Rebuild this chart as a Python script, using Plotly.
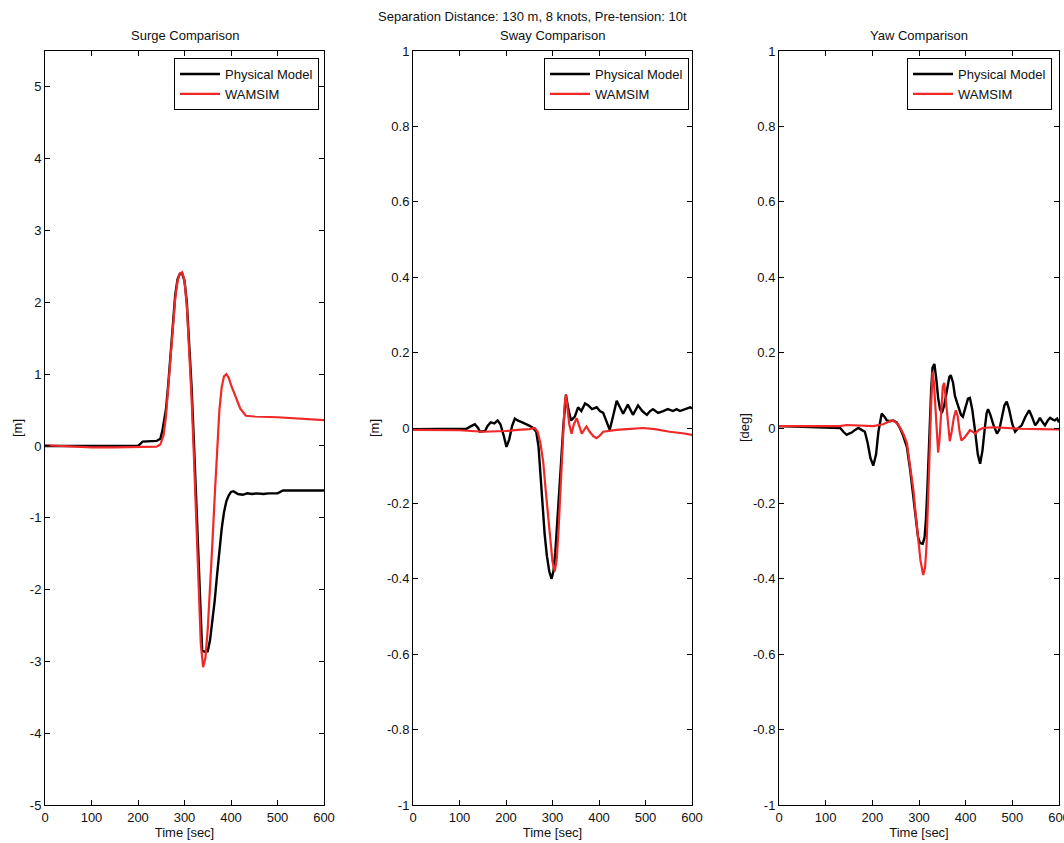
import plotly.graph_objects as go

# ---------------- data ----------------
t_surge_phys = [0, 50, 100, 150, 200, 205, 210, 240, 248, 252, 255, 260, 265, 270, 275,
                280, 285, 290, 295, 300, 305, 310, 315, 320, 325, 330, 335, 338, 345, 350,
                355, 360, 365, 370, 375, 380, 385, 390, 395, 400, 405, 415, 425, 435, 445,
                455, 470, 480, 500, 508, 512, 550, 600]
surge_phys = [0.0, 0.0, 0.0, 0.0, 0.0, 0.03, 0.06, 0.07, 0.1, 0.2, 0.3, 0.5, 0.85, 1.3, 1.75,
              2.1, 2.32, 2.4, 2.4, 2.3, 2.0, 1.5, 0.85, 0.1, -0.7, -1.6, -2.5, -2.85, -2.87, -2.86,
              -2.7, -2.45, -2.15, -1.8, -1.45, -1.15, -0.92, -0.77, -0.69, -0.64, -0.63, -0.67, -0.68, -0.66, -0.67,
              -0.66, -0.67, -0.66, -0.66, -0.64, -0.62, -0.62, -0.62]

t_surge_wam = [0, 50, 100, 150, 200, 240, 248, 255, 260, 265, 270, 275, 280, 285, 290,
               295, 300, 305, 310, 315, 320, 325, 330, 335, 340, 345, 350, 355, 360, 365,
               370, 375, 380, 385, 390, 395, 400, 410, 420, 432, 450, 500, 550, 600]
surge_wam = [0.01, -0.01, -0.02, -0.02, -0.02, -0.01, 0.02, 0.15, 0.4, 0.8, 1.25, 1.7, 2.05, 2.3, 2.4,
             2.42, 2.3, 1.95, 1.4, 0.7, -0.1, -1.0, -2.0, -2.75, -3.08, -2.95, -2.55, -2.0, -1.35, -0.7,
             -0.05, 0.5, 0.82, 0.97, 1.0, 0.95, 0.85, 0.68, 0.52, 0.42, 0.41, 0.4, 0.38, 0.36]

t_sway_phys = [0, 50, 100, 115, 125, 133, 140, 144, 155, 160, 167, 175, 182, 188, 195,
               201, 207, 213, 219, 225, 235, 245, 252, 258, 265, 270, 274, 278, 283, 288,
               293, 298, 302, 306, 310, 314, 318, 323, 329, 334, 340, 348, 355, 362, 370,
               377, 385, 395, 402, 409, 416, 423, 430, 438, 445, 452, 462, 468, 473, 484,
               493, 503, 510, 516, 527, 538, 548, 559, 567, 574, 585, 596, 600]
sway_phys = [-0.003, -0.003, -0.002, -0.002, 0.005, 0.01, 0.0, -0.01, -0.008, 0.005, 0.015, 0.012, 0.02, 0.01, -0.02,
             -0.05, -0.03, 0.005, 0.025, 0.02, 0.015, 0.01, 0.005, 0.0, -0.01, -0.05, -0.12, -0.2, -0.28, -0.34,
             -0.38, -0.40, -0.38, -0.33, -0.26, -0.19, -0.1, 0.0, 0.087, 0.05, 0.02, 0.03, 0.055, 0.045, 0.065,
             0.06, 0.05, 0.055, 0.045, 0.04, 0.02, -0.005, 0.03, 0.072, 0.055, 0.038, 0.062, 0.045, 0.035, 0.06,
             0.045, 0.035, 0.045, 0.05, 0.04, 0.045, 0.05, 0.045, 0.05, 0.045, 0.05, 0.055, 0.052]

t_sway_wam = [0, 50, 100, 150, 175, 200, 225, 250, 262, 268, 274, 280, 285, 290, 295,
              300, 305, 309, 313, 317, 320, 323, 326, 329, 332, 336, 341, 346, 352, 357,
              363, 368, 373, 380, 388, 395, 402, 409, 420, 438, 460, 495, 520, 552, 580, 600]
sway_wam = [-0.005, -0.005, -0.006, -0.01, -0.01, -0.008, -0.005, -0.003, 0.0, -0.01, -0.04, -0.09, -0.16, -0.23, -0.3,
            -0.355, -0.38, -0.35, -0.27, -0.17, -0.08, 0.0, 0.06, 0.09, 0.06, 0.01, -0.015, 0.01, 0.026, 0.005,
            -0.015, -0.005, 0.004, -0.01, -0.022, -0.027, -0.02, -0.01, -0.008, -0.005, -0.003, 0.0, -0.003, -0.01, -0.014, -0.018]

t_yaw_phys = [0, 50, 100, 116, 131, 138, 145, 150, 156, 163, 170, 177, 184, 190, 196,
              202, 208, 213, 220, 226, 231, 238, 245, 252, 259, 266, 274, 281, 288, 293,
              298, 302, 308, 312, 315, 318, 322, 326, 329, 333, 337, 341, 345, 349, 354,
              360, 365, 368, 373, 377, 381, 390, 394, 400, 405, 409, 414, 420, 426, 431,
              436, 441, 445, 448, 453, 459, 467, 472, 478, 483, 488, 493, 500, 506, 513,
              520, 528, 536, 542, 549, 554, 559, 565, 570, 576, 581, 587, 591, 596, 600]
yaw_phys = [0.005, 0.003, 0.002, 0.0, 0.0, -0.01, -0.018, -0.015, -0.012, -0.005, 0.0, -0.005, -0.01, -0.04, -0.08,
            -0.1, -0.07, -0.01, 0.038, 0.03, 0.02, 0.018, 0.02, 0.015, 0.0, -0.02, -0.05, -0.11, -0.18, -0.24,
            -0.29, -0.305, -0.307, -0.29, -0.24, -0.16, -0.005, 0.1, 0.16, 0.17, 0.13, 0.08, 0.05, 0.04, 0.06,
            0.1, 0.135, 0.14, 0.12, 0.085, 0.07, 0.035, 0.03, 0.055, 0.078, 0.08, 0.05, -0.006, -0.07, -0.095,
            -0.06, 0.0, 0.04, 0.05, 0.035, 0.01, -0.015, -0.005, 0.03, 0.06, 0.07, 0.05, 0.01, -0.01, 0.0,
            0.007, 0.03, 0.047, 0.03, 0.007, 0.015, 0.027, 0.015, 0.007, 0.02, 0.027, 0.022, 0.02, 0.025, 0.015]

t_yaw_wam = [0, 50, 100, 130, 145, 170, 202, 223, 235, 241, 248, 255, 262, 268, 274,
             281, 288, 293, 298, 303, 309, 313, 316, 319, 322, 325, 329, 332, 334, 338,
             341, 344, 348, 351, 354, 357, 361, 366, 370, 375, 379, 383, 387, 391, 398,
             409, 415, 420, 428, 437, 460, 488, 520, 560, 600]
yaw_wam = [0.005, 0.005, 0.004, 0.005, 0.008, 0.007, 0.005, 0.01, 0.018, 0.02, 0.017, 0.01, -0.005, -0.02, -0.04,
           -0.1, -0.165, -0.23, -0.29, -0.35, -0.39, -0.37, -0.315, -0.22, -0.095, 0.03, 0.15, 0.12, 0.08, 0.0,
           -0.065, -0.03, 0.06, 0.11, 0.12, 0.08, 0.02, -0.035, -0.01, 0.03, 0.047, 0.03, -0.01, -0.033, -0.025,
           -0.006, -0.01, -0.015, -0.005, 0.0, 0.002, 0.0, -0.002, -0.003, -0.004]

x_ticks = [0, 100, 200, 300, 400, 500, 600]
x_ticktext = ["0", "100", "200", "300", "400", "500", "600"]
surge_ticks = [-5, -4, -3, -2, -1, 0, 1, 2, 3, 4, 5]
surge_ticktext = ["-5", "-4", "-3", "-2", "-1", "0", "1", "2", "3", "4", "5"]
unit_ticks = [-1, -0.8, -0.6, -0.4, -0.2, 0, 0.2, 0.4, 0.6, 0.8, 1]
unit_ticktext = ["-1", "-0.8", "-0.6", "-0.4", "-0.2", "0", "0.2", "0.4", "0.6", "0.8", "1"]

suptitle = "Separation Distance: 130 m, 8 knots, Pre-tension: 10t"
titles = ["Surge Comparison", "Sway Comparison", "Yaw Comparison"]
ylabels = ["[m]", "[m]", "[deg]"]
series_names = ["Physical Model", "WAMSIM"]

# ---------------- figure ----------------
W, H = 1064, 843
TOP, BOT = 51, 805
FONT = "Liberation Sans, Arial, sans-serif"
BLACK = "#000000"
RED = "#f02828"
TXT = "#111111"

def px_x(p):
    return p / W

def px_y(p):
    return (BOT - p) / (BOT - TOP)

domains = [(45, 324), (413, 692), (779, 1059)]
legend_right = [319, 689, 1052]
ylabel_x = [17, 374, 744]

fig = go.Figure()

data = [
    (t_surge_phys, surge_phys, t_surge_wam, surge_wam),
    (t_sway_phys, sway_phys, t_sway_wam, sway_wam),
    (t_yaw_phys, yaw_phys, t_yaw_wam, yaw_wam),
]

for i, (tp, yp, tw, yw) in enumerate(data):
    ax = "" if i == 0 else str(i + 1)
    leg = "legend" if i == 0 else f"legend{i + 1}"
    fig.add_trace(go.Scatter(x=tp, y=yp, mode="lines", name=series_names[0],
                             line=dict(color=BLACK, width=2.4),
                             xaxis="x" + ax, yaxis="y" + ax, legend=leg))
    fig.add_trace(go.Scatter(x=tw, y=yw, mode="lines", name=series_names[1],
                             line=dict(color=RED, width=2.2),
                             xaxis="x" + ax, yaxis="y" + ax, legend=leg))

axis_common = dict(showline=True, linecolor="black", linewidth=1, mirror="ticks",
                   ticks="inside", ticklen=5, tickcolor="black", tickwidth=1,
                   showgrid=False, zeroline=False, automargin=False,
                   ticklabeloverflow="allow",
                   tickfont=dict(family=FONT, size=13, color=TXT))

layout = dict(
    width=W, height=H,
    margin=dict(l=0, r=0, t=TOP, b=H - BOT, pad=0),
    paper_bgcolor="white", plot_bgcolor="white",
    font=dict(family=FONT, size=13, color=TXT),
    showlegend=True,
)

annotations = [dict(text=suptitle, x=px_x(532), y=px_y(17), xref="paper", yref="paper",
                    showarrow=False, xanchor="center", yanchor="middle",
                    font=dict(family=FONT, size=13, color=TXT))]

for i in range(3):
    ax = "" if i == 0 else str(i + 1)
    x0, x1 = domains[i]
    xa = dict(axis_common, domain=[px_x(x0), px_x(x1)], range=[0, 600],
              tickvals=x_ticks, ticktext=x_ticktext, anchor="y" + ax,
              title=dict(text="Time [sec]", standoff=0, font=dict(family=FONT, size=13, color=TXT)))
    if i == 0:
        ya = dict(axis_common, domain=[0, 1], range=[-5, 5.5],
                  tickvals=surge_ticks, ticktext=surge_ticktext, anchor="x" + ax)
    else:
        ya = dict(axis_common, domain=[0, 1], range=[-1, 1],
                  tickvals=unit_ticks, ticktext=unit_ticktext, anchor="x" + ax)
    layout["xaxis" + ax] = xa
    layout["yaxis" + ax] = ya

    annotations.append(dict(text=titles[i], x=px_x((x0 + x1) / 2), y=px_y(36),
                            xref="paper", yref="paper", showarrow=False,
                            xanchor="center", yanchor="middle",
                            font=dict(family=FONT, size=13, color=TXT)))
    annotations.append(dict(text=ylabels[i], x=px_x(ylabel_x[i]), y=0.5,
                            xref="paper", yref="paper", showarrow=False,
                            xanchor="center", yanchor="middle", textangle=-90,
                            font=dict(family=FONT, size=13, color=TXT)))

    leg = "legend" if i == 0 else f"legend{i + 1}"
    layout[leg] = dict(x=px_x(legend_right[i]), xanchor="right",
                       y=px_y(58), yanchor="top",
                       bgcolor="white", bordercolor="black", borderwidth=1,
                       font=dict(family=FONT, size=13, color=TXT),
                       tracegroupgap=0, itemwidth=40)

layout["annotations"] = annotations
fig.update_layout(**layout)

fig.write_html("out.html",
               config={"displayModeBar": False},
               post_script="document.body.style.margin='0';"
                           "document.documentElement.style.overflow='hidden';")
